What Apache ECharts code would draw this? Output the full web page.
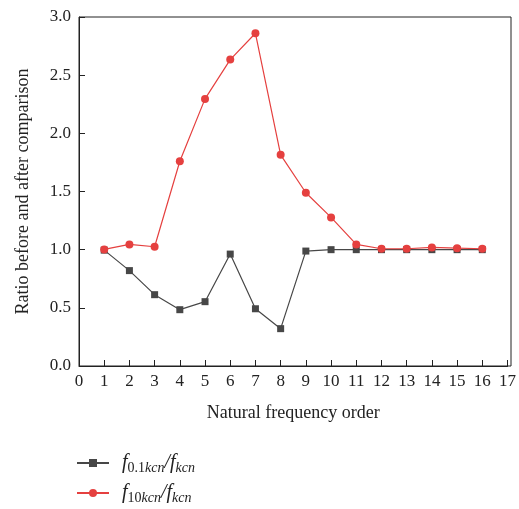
<!DOCTYPE html>
<html><head><meta charset="utf-8">
<script src="https://cdn.jsdelivr.net/npm/echarts@6/dist/echarts.min.js"></script>
<style>html,body{margin:0;padding:0;background:#fff}#c{width:519px;height:509px}</style>
</head><body><div id="c"></div>
<script>
const orders = [1,2,3,4,5,6,7,8,9,10,11,12,13,14,15,16];
const ratio01 = [0.996,0.82,0.613,0.484,0.553,0.962,0.492,0.321,0.988,1.0,1.0,1.0,1.0,1.0,1.0,1.0];
const ratio10 = [1.002,1.045,1.025,1.76,2.296,2.634,2.86,1.815,1.489,1.277,1.045,1.008,1.008,1.019,1.013,1.008];
const seriesNames = ['f01','f10'];
const xTitle = 'Natural frequency order';
const yTitle = 'Ratio before and after comparison';

const serif = 'Liberation Serif';
const chart = echarts.init(document.getElementById('c'));
const rich = {
  sp: {width: 8},
  f: {fontFamily: serif, fontStyle: 'italic', fontSize: 20, color: '#222'},
  s: {fontFamily: serif, fontSize: 14, color: '#222', padding: [10,0,0,0]},
  si: {fontFamily: serif, fontStyle: 'italic', fontSize: 14, color: '#222', padding: [10,0,0,0]}
};
const labels = {
  f01: '{sp|}{f|f}{s|0.1}{si|kcn}{f|/f}{si|kcn}',
  f10: '{sp|}{f|f}{s|10}{si|kcn}{f|/f}{si|kcn}'
};
const legendBase = {
  orient: 'vertical', left: 76, itemWidth: 32, itemHeight: 10, padding: 0,
  formatter: n => labels[n],
  textStyle: {rich: rich}
};
chart.setOption({
  animation: false,
  grid: {left: 79, right: 8, top: 17, bottom: 143},
  xAxis: {
    type: 'value', min: 0, max: 17, interval: 1,
    name: xTitle, nameLocation: 'middle', nameGap: 38,
    nameTextStyle: {fontFamily: serif, fontSize: 18, color: '#222'},
    axisLine: {show: true, lineStyle: {color: '#222', width: 1}},
    axisTick: {show: true, inside: true, length: 6, lineStyle: {color: '#222'}},
    axisLabel: {fontFamily: serif, fontSize: 17, color: '#222', margin: 7},
    splitLine: {show: false}
  },
  yAxis: {
    type: 'value', min: 0, max: 3, interval: 0.5,
    name: yTitle, nameLocation: 'middle', nameGap: 47,
    nameTextStyle: {fontFamily: serif, fontSize: 18, color: '#222'},
    axisLine: {show: true, lineStyle: {color: '#222', width: 1}},
    axisTick: {show: true, inside: true, length: 6, lineStyle: {color: '#222'}},
    axisLabel: {fontFamily: serif, fontSize: 17, color: '#222', margin: 8, formatter: v => v.toFixed(1)},
    splitLine: {show: false}
  },
  legend: [
    Object.assign({}, legendBase, {data: [seriesNames[0]], top: 453}),
    Object.assign({}, legendBase, {data: [seriesNames[1]], top: 483})
  ],
  series: [
    {name: seriesNames[0], type: 'line', data: orders.map((o,i)=>[o, ratio01[i]]),
     symbol: 'rect', symbolSize: 7, itemStyle: {color: '#474747'}, lineStyle: {color: '#474747', width: 1.2}},
    {name: seriesNames[1], type: 'line', data: orders.map((o,i)=>[o, ratio10[i]]),
     symbol: 'circle', symbolSize: 8, itemStyle: {color: '#e5403f'}, lineStyle: {color: '#e5403f', width: 1.2}}
  ],
  graphic: [{type: 'rect', shape: {x: 79, y: 17, width: 432, height: 349}, style: {fill: 'none', stroke: '#222', lineWidth: 1}, silent: true}]
});
</script></body></html>
